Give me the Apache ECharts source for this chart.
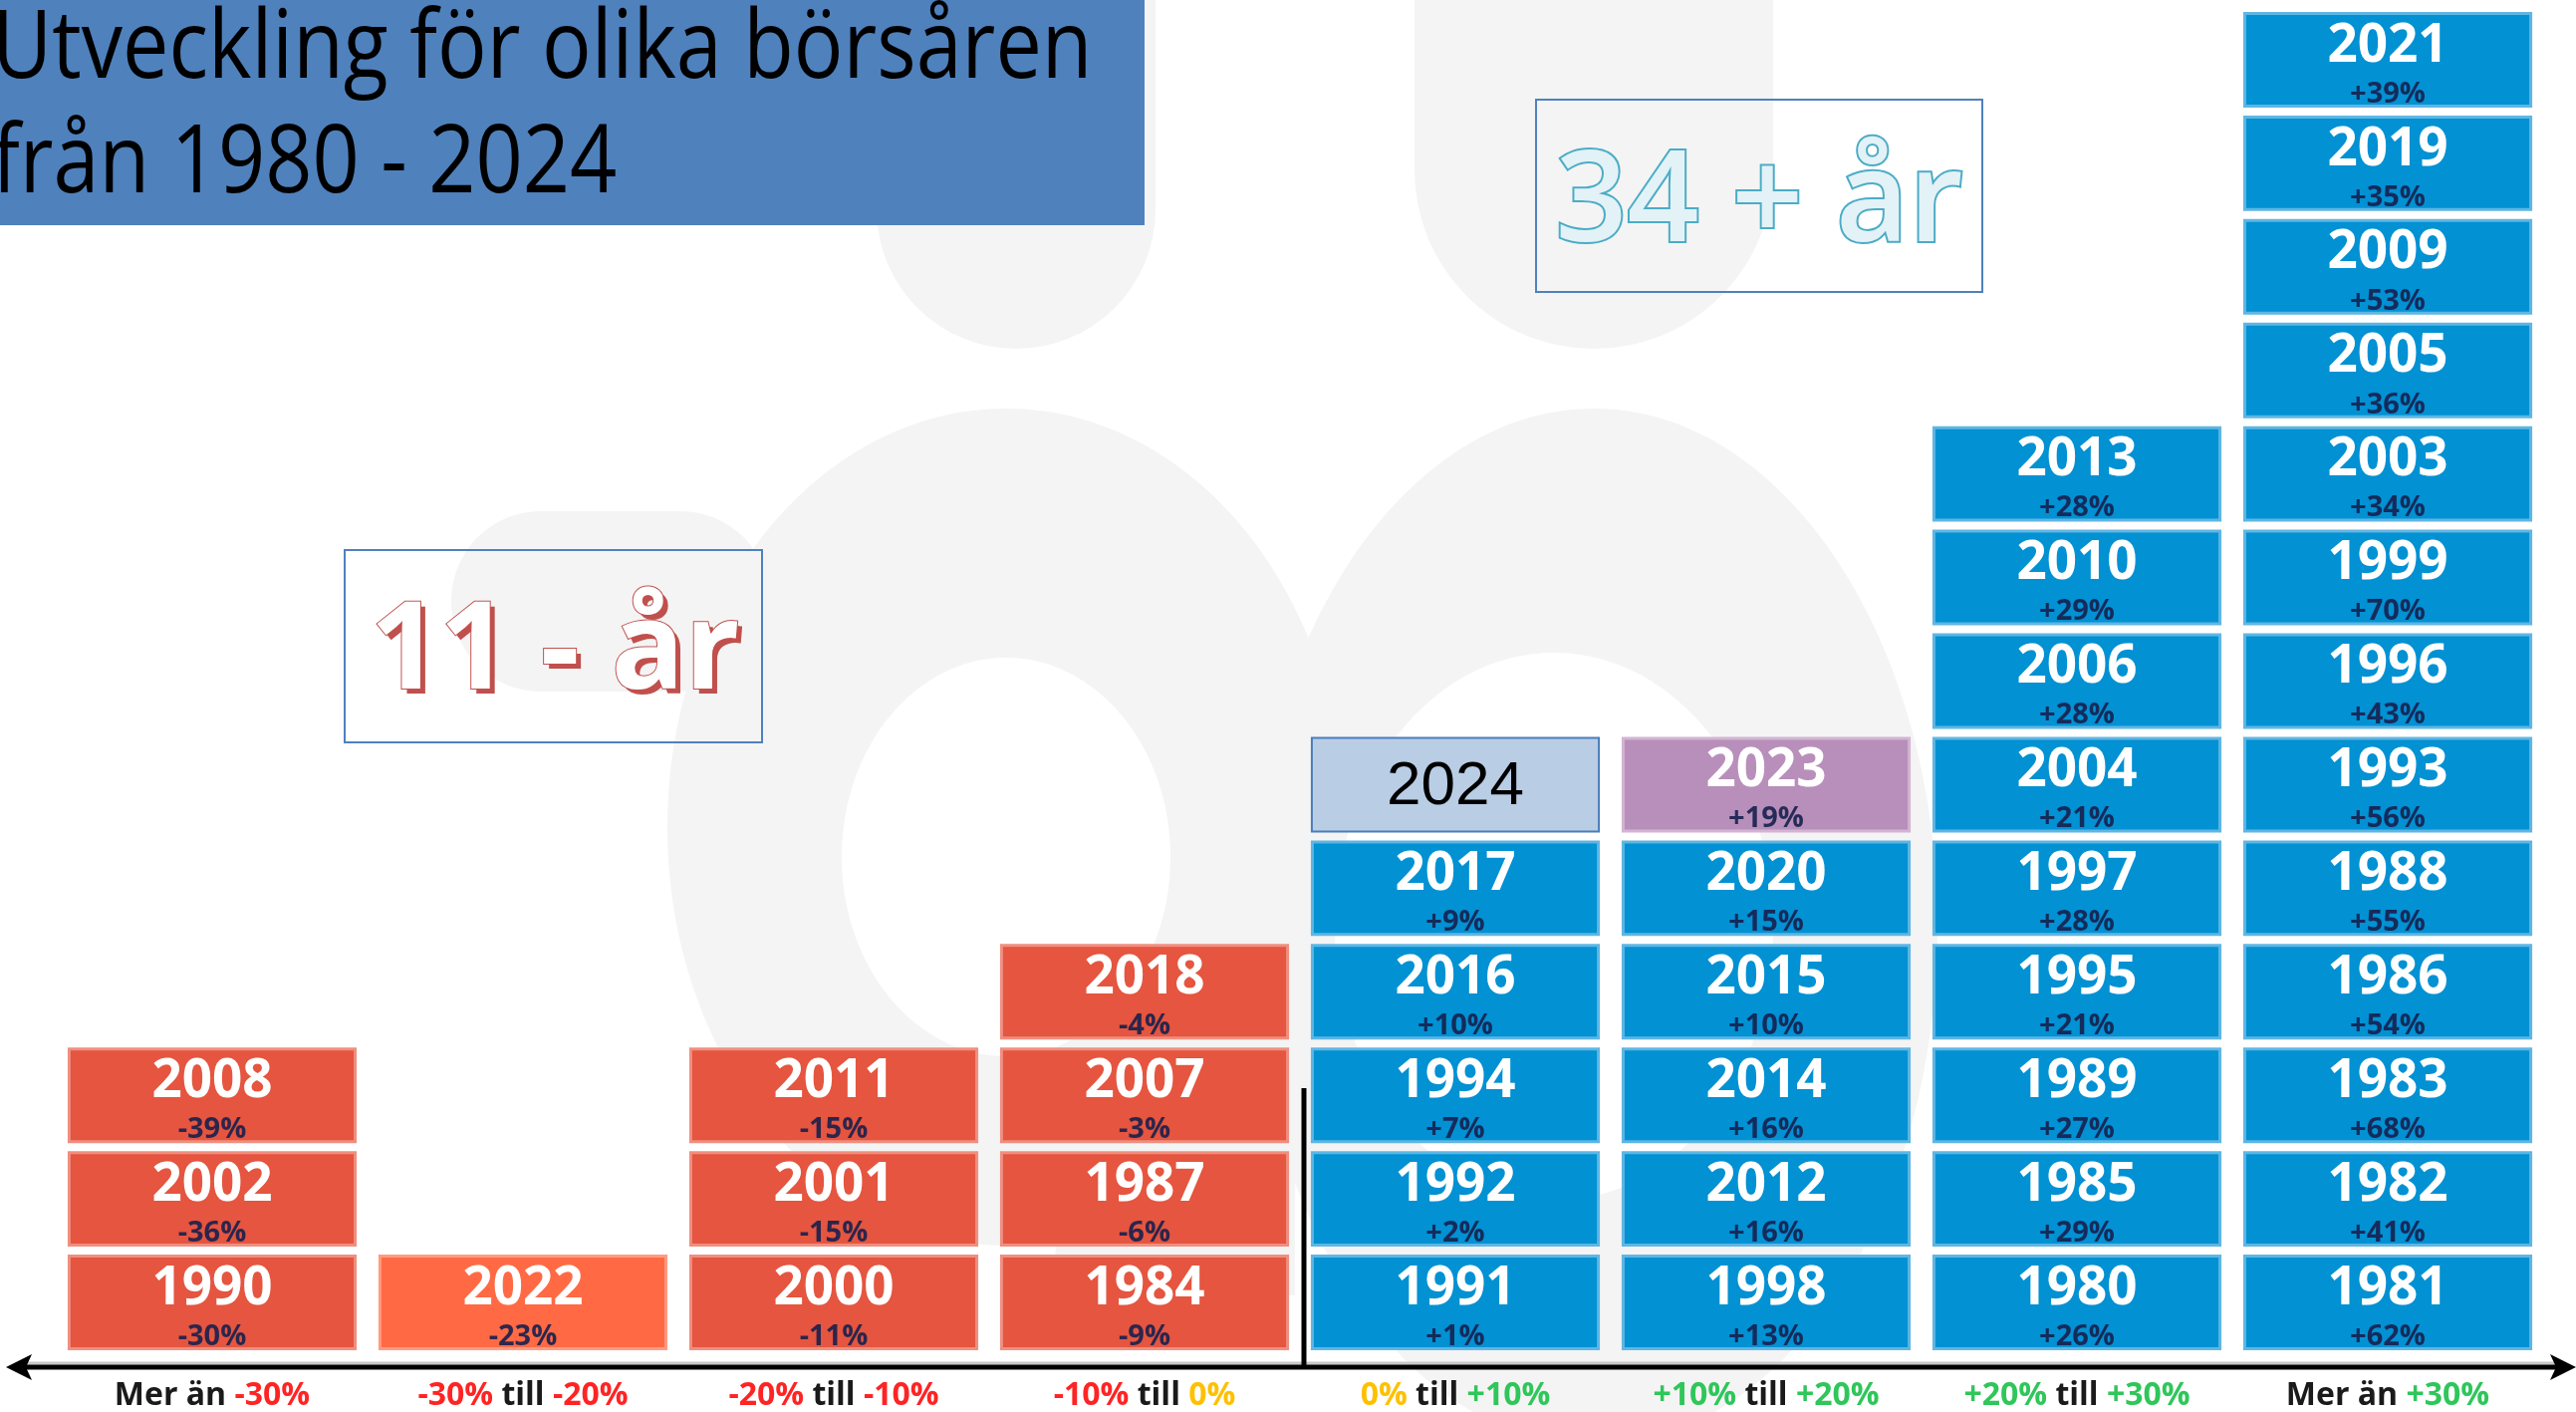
<!DOCTYPE html>
<html>
<head>
<meta charset="utf-8">
<script src="https://cdn.jsdelivr.net/npm/echarts@6/dist/echarts.min.js"></script>
<style>
html,body{margin:0;padding:0;background:#fff;}
#chart{width:2586px;height:1417px;}
</style>
</head>
<body>
<div id="chart"></div>
<script>
// ---- data ----
const categories = ['Mer än -30%', '-30% till -20%', '-20% till -10%', '-10% till 0%', '0% till +10%', '+10% till +20%', '+20% till +30%', 'Mer än +30%'];
// years per bucket, bottom to top
const yearsCol1 = ['1990', '2002', '2008'];
const pctCol1 = ['-30%', '-36%', '-39%'];
const yearsCol2 = ['2022'];
const pctCol2 = ['-23%'];
const yearsCol3 = ['2000', '2001', '2011'];
const pctCol3 = ['-11%', '-15%', '-15%'];
const yearsCol4 = ['1984', '1987', '2007', '2018'];
const pctCol4 = ['-9%', '-6%', '-3%', '-4%'];
const yearsCol5 = ['1991', '1992', '1994', '2016', '2017', '2024'];
const pctCol5 = ['+1%', '+2%', '+7%', '+10%', '+9%', ''];
const yearsCol6 = ['1998', '2012', '2014', '2015', '2020', '2023'];
const pctCol6 = ['+13%', '+16%', '+16%', '+10%', '+15%', '+19%'];
const yearsCol7 = ['1980', '1985', '1989', '1995', '1997', '2004', '2006', '2010', '2013'];
const pctCol7 = ['+26%', '+29%', '+27%', '+21%', '+28%', '+21%', '+28%', '+29%', '+28%'];
const yearsCol8 = ['1981', '1982', '1983', '1986', '1988', '1993', '1996', '1999', '2003', '2005', '2009', '2019', '2021'];
const pctCol8 = ['+62%', '+41%', '+68%', '+54%', '+55%', '+56%', '+43%', '+70%', '+34%', '+36%', '+53%', '+35%', '+39%'];
const yAxisMax = 13;
const titleLines = ['Utveckling för olika börsåren', 'från 1980 - 2024'];
const negLabel = '11 - år';
const posLabel = '34 + år';
const currentYear = '2024';
const lastYear = '2023';

// ---- build cells ----
const allYears = [yearsCol1, yearsCol2, yearsCol3, yearsCol4, yearsCol5, yearsCol6, yearsCol7, yearsCol8];
const allPct = [pctCol1, pctCol2, pctCol3, pctCol4, pctCol5, pctCol6, pctCol7, pctCol8];
const cells = [];
allYears.forEach((ys, c) => ys.forEach((y, r) => cells.push({ col: c, row: r, year: y, pct: allPct[c][r] })));

const RED = '#E5553F', RED_B = '#ef8f80';
const ORANGE = '#FF6A45', ORANGE_B = '#ff9b80';
const BLUE = '#0291D3', BLUE_B = '#5fb6e3';

function renderItem(params, api) {
  const d = cells[params.dataIndex];
  const bottom = api.coord([d.col, d.row]);
  const top = api.coord([d.col, d.row + 1]);
  const bw = api.size([1, 0])[0] * 0.93;
  const x = bottom[0] - bw / 2;
  const y = top[1] + 4;
  const h = bottom[1] - top[1] - 8;
  let fill, stroke, lw = 3;
  if (d.year === currentYear) { fill = '#B9CDE5'; stroke = '#4A7EBB'; lw = 2; }
  else if (d.year === lastYear) { fill = '#B88FBA'; stroke = '#d2b4d3'; }
  else if (d.col < 4) { fill = d.col === 1 ? ORANGE : RED; stroke = d.col === 1 ? ORANGE_B : RED_B; }
  else { fill = BLUE; stroke = BLUE_B; }
  const children = [{
    type: 'rect',
    shape: { x: x + lw / 2, y: y + lw / 2, width: bw - lw, height: h - lw },
    style: { fill: fill, stroke: stroke, lineWidth: lw }
  }];
  if (d.year === currentYear) {
    children.push({
      type: 'text',
      style: { text: d.year, x: bottom[0], y: y + h / 2 + 2, align: 'center', verticalAlign: 'middle',
        fill: '#000', font: '62px "Liberation Sans", Arial, sans-serif' }
    });
  } else {
    children.push({
      type: 'text',
      style: { text: d.year, x: bottom[0], y: y + h * 0.36, align: 'center', verticalAlign: 'middle',
        fill: '#fff', font: 'bold 53px "Open Sans", sans-serif' }
    });
    children.push({
      type: 'text',
      style: { text: d.pct, x: bottom[0], y: y + h * 0.86, align: 'center', verticalAlign: 'middle',
        fill: 'rgba(22,32,78,0.9)', font: 'bold 29px "Open Sans", sans-serif' }
    });
  }
  return { type: 'group', children: children };
}

function labelFmt(v) {
  return v.split(' ').map((t, i, arr) => {
    let s = 'k';
    if (/%$/.test(t)) s = t[0] === '-' ? 'r' : (t[0] === '+' ? 'g' : 'y');
    const sp = i < arr.length - 1 ? ' ' : '';
    return '{' + s + '|' + t + sp + '}';
  }).join('');
}

const W = 2586, H = 1417;
const wm = '#f4f4f4';
const chart = echarts.init(document.getElementById('chart'), null, { renderer: 'canvas' });
const labelFont = { fontFamily: 'Open Sans', fontWeight: 'bold', fontSize: 32 };
chart.setOption({
  backgroundColor: '#ffffff',
  animation: false,
  grid: { left: 57, right: W - 2553, top: 8, bottom: 52 },
  xAxis: {
    type: 'category', data: categories,
    axisLine: { show: false }, axisTick: { show: false },
    axisLabel: {
      margin: 26, formatter: labelFmt,
      rich: {
        k: Object.assign({ color: '#1a1a1a' }, labelFont),
        r: Object.assign({ color: '#ff2424' }, labelFont),
        y: Object.assign({ color: '#ffc000' }, labelFont),
        g: Object.assign({ color: '#2fc65a' }, labelFont)
      }
    }
  },
  yAxis: { type: 'value', min: 0, max: yAxisMax, interval: 1, show: false, splitLine: { show: false } },
  series: [{
    type: 'custom', renderItem: renderItem, z: 5,
    data: cells.map(c => [c.col, c.row])
  }],
  graphic: [
    // watermark
    { type: 'rect', z: -20, shape: { x: 453, y: 513, width: 320, height: 181, r: 90 }, style: { fill: wm } },
    { type: 'ellipse', z: -20, shape: { cx: 1010, cy: 830, rx: 340, ry: 420 }, style: { fill: wm } },
    { type: 'ellipse', z: -20, shape: { cx: 1600, cy: 930, rx: 345, ry: 520 }, style: { fill: wm } },
    { type: 'polygon', z: -20, shape: { points: [[1180, 700], [1300, 640], [1300, 1300], [1050, 1300]] }, style: { fill: wm } },
    { type: 'ellipse', z: -19, shape: { cx: 1010, cy: 860, rx: 165, ry: 200 }, style: { fill: '#fff' } },
    { type: 'ellipse', z: -19, shape: { cx: 1560, cy: 930, rx: 220, ry: 275 }, style: { fill: '#fff' } },
    { type: 'rect', z: -20, shape: { x: 880, y: -300, width: 280, height: 650, r: [0, 0, 140, 140] }, style: { fill: wm } },
    { type: 'rect', z: -20, shape: { x: 1420, y: -300, width: 360, height: 650, r: [0, 0, 180, 180] }, style: { fill: wm } },
    // title box
    { type: 'rect', z: 10, shape: { x: 0, y: 0, width: 1149, height: 226 }, style: { fill: '#4F81BD' } },
    { type: 'text', z: 11, x: -8, y: 51, scaleX: 0.87, style: { text: titleLines[0], fill: '#000', font: '95px "Open Sans", sans-serif', textAlign: 'left', textVerticalAlign: 'middle' } },
    { type: 'text', z: 11, x: -8, y: 166, scaleX: 0.87, style: { text: titleLines[1], fill: '#000', font: '95px "Open Sans", sans-serif', textAlign: 'left', textVerticalAlign: 'middle' } },
    // 11 - år box
    { type: 'rect', z: 10, shape: { x: 346, y: 552, width: 419, height: 193 }, style: { fill: 'rgba(0,0,0,0)', stroke: '#4F81BD', lineWidth: 2 } },
    { type: 'text', z: 11, x: 562, y: 661, style: { text: negLabel, fill: '#C0504D', font: 'bold 122px "Open Sans", sans-serif', textAlign: 'center', textVerticalAlign: 'middle' } },
    { type: 'text', z: 12, x: 557, y: 656, style: { text: negLabel, fill: '#ffffff', stroke: '#C0504D', lineWidth: 2, font: 'bold 122px "Open Sans", sans-serif', textAlign: 'center', textVerticalAlign: 'middle' } },
    // 34 + år box
    { type: 'rect', z: 10, shape: { x: 1542, y: 100, width: 448, height: 193 }, style: { fill: 'rgba(0,0,0,0)', stroke: '#4F81BD', lineWidth: 2 } },
    { type: 'text', z: 11, x: 1766, y: 206, style: { text: posLabel, fill: '#e2f2f7', stroke: '#4BACC6', lineWidth: 4, font: '600 126px "Open Sans", sans-serif', textAlign: 'center', textVerticalAlign: 'middle' } },
    // axis line with arrows
    { type: 'line', z: 10, shape: { x1: 20, y1: 1368, x2: 2570, y2: 1368 }, style: { stroke: '#c8c8c8', lineWidth: 3 } },
    { type: 'line', z: 11, shape: { x1: 20, y1: 1372, x2: 2570, y2: 1372 }, style: { stroke: '#000', lineWidth: 5 } },
    { type: 'polygon', z: 11, shape: { points: [[6, 1372], [32, 1359], [26, 1372], [32, 1385]] }, style: { fill: '#000' } },
    { type: 'polygon', z: 11, shape: { points: [[2586, 1372], [2560, 1359], [2566, 1372], [2560, 1385]] }, style: { fill: '#000' } },
    // divider
    { type: 'line', z: 11, shape: { x1: 1309, y1: 1092, x2: 1309, y2: 1372 }, style: { stroke: '#000', lineWidth: 5 } }
  ]
});
</script>
</body>
</html>
